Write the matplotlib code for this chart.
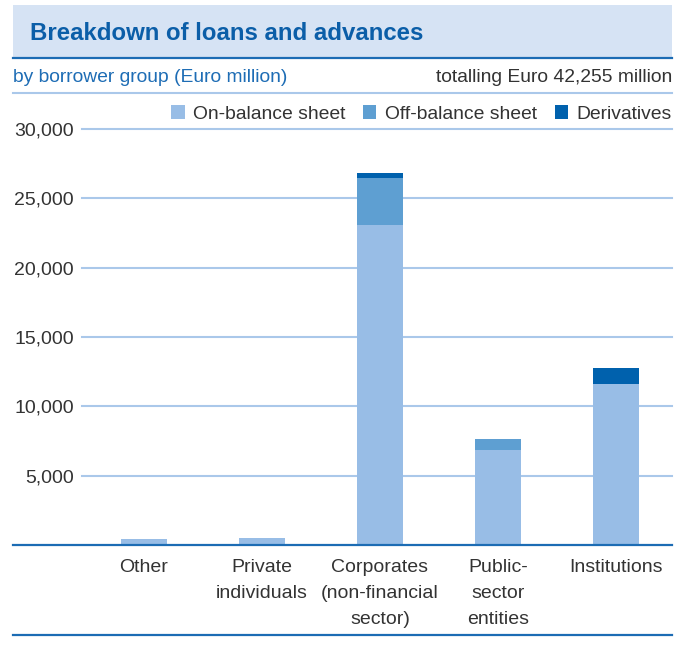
import matplotlib
matplotlib.use("Agg")
import matplotlib.pyplot as plt
from matplotlib.patches import Rectangle, Patch
from matplotlib.lines import Line2D

categories = ["Other", "Private\nindividuals", "Corporates\n(non-financial\nsector)", "Public-\nsector\nentities", "Institutions"]
on_balance = [430, 500, 23090, 6850, 11620]
off_balance = [0, 0, 3390, 800, 0]
derivatives = [0, 0, 360, 0, 1150]
yticks = [5000, 10000, 15000, 20000, 25000, 30000]
series_names = ["On-balance sheet", "Off-balance sheet", "Derivatives"]
colors = ["#98bde6", "#5e9fd2", "#0061ad"]

W, H = 688, 646
plt.rcParams['font.family'] = ['Liberation Sans', 'DejaVu Sans']
fig = plt.figure(figsize=(W / 100, H / 100), dpi=100)

def fx(px):
    return px / W

def fy(py):
    return 1 - py / H

# Title band
fig.patches.append(Rectangle((fx(13), fy(58)), fx(672) - fx(13), fy(5) - fy(58),
                             transform=fig.transFigure, facecolor="#d6e3f4", edgecolor="none"))
fig.lines.append(Line2D([fx(13), fx(672)], [fy(58), fy(58)], transform=fig.transFigure,
                        color="#1c6cb4", lw=1.6))
fig.text(fx(30), fy(33), "Breakdown of loans and advances", fontsize=17.3, fontweight="bold",
         color="#0b5ea8", va="center", ha="left")
fig.text(fx(13), fy(78), "by borrower group (Euro million)", fontsize=13.9, color="#1e6db5",
         va="center", ha="left")
fig.text(fx(672), fy(78), "totalling Euro 42,255 million", fontsize=13.9, color="#333333",
         va="center", ha="right")
fig.lines.append(Line2D([fx(13), fx(672)], [fy(93), fy(93)], transform=fig.transFigure,
                        color="#aac8ea", lw=1.5))

# Axes
ax = fig.add_axes([fx(82), fy(545), fx(672) - fx(82), fy(129) - fy(545)])
x = list(range(len(categories)))
bw = 0.39
bottom2 = [a + b for a, b in zip(on_balance, off_balance)]
ax.bar(x, on_balance, width=bw, color=colors[0], zorder=3)
ax.bar(x, off_balance, width=bw, bottom=on_balance, color=colors[1], zorder=3)
ax.bar(x, derivatives, width=bw, bottom=bottom2, color=colors[2], zorder=3)
ax.set_xlim(-0.525, 4.475)
ax.set_ylim(0, 30000)
for s in ax.spines.values():
    s.set_visible(False)
ax.set_yticks(yticks)
ax.set_yticklabels([f"{v:,}" for v in yticks])
for v in yticks:
    ax.axhline(v, color="#aac8ea", lw=1.5, zorder=1, clip_on=False)
ax.tick_params(axis="y", length=0, pad=6, labelsize=14, labelcolor="#333333")
ax.set_xticks(x)
ax.set_xticklabels(categories, linespacing=1.7, va="top")
ax.tick_params(axis="x", length=0, pad=10, labelsize=14, labelcolor="#333333")

# Baseline and bottom rule
fig.lines.append(Line2D([fx(13), fx(672)], [fy(545), fy(545)], transform=fig.transFigure,
                        color="#1c6cb4", lw=1.6, zorder=5))
fig.lines.append(Line2D([fx(13), fx(672)], [fy(635), fy(635)], transform=fig.transFigure,
                        color="#1c6cb4", lw=1.6))

handles = [Patch(facecolor=c, edgecolor="none") for c in colors]
fig.legend(handles, series_names, loc="center right", bbox_to_anchor=(fx(672), fy(114)),
           ncol=3, frameon=False, fontsize=13.9, handlelength=0.7, handleheight=0.7,
           handletextpad=0.45, columnspacing=0.9, labelcolor="#333333", borderpad=0,
           borderaxespad=0)

fig.savefig("out.png", dpi=100)
